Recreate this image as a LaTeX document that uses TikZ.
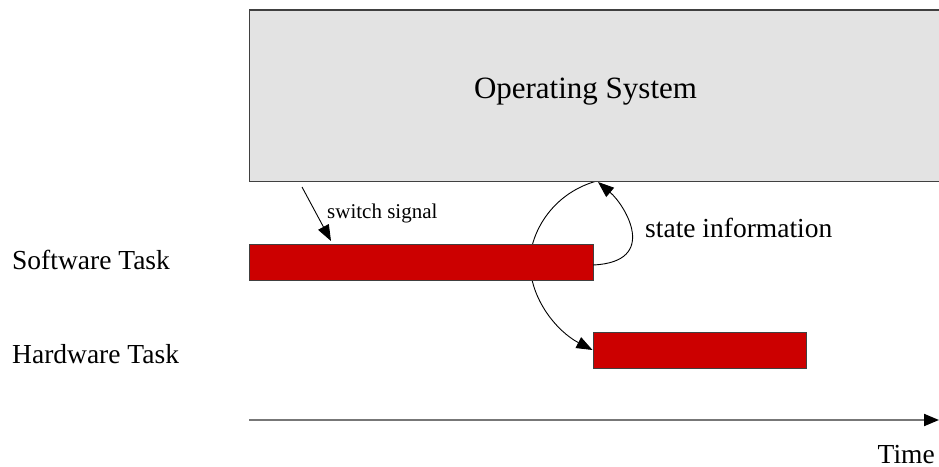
\documentclass[tikz,border=0pt]{standalone}
\usepackage{fontspec}
\setmainfont{Liberation Serif}
\usetikzlibrary{arrows.meta,backgrounds}
\definecolor{osgray}{HTML}{E3E3E3}
\definecolor{taskred}{HTML}{CC0000}
\definecolor{edgegray}{HTML}{404040}
\definecolor{axisgray}{HTML}{777777}
\tikzset{
  osbox/.style={draw=edgegray, line width=1.2pt, fill=osgray, inner sep=0pt},
  taskbar/.style={draw=edgegray, line width=1pt, fill=taskred, inner sep=0pt, minimum height=36pt},
  lbl/.style={inner sep=0pt, font=\fontsize{27.5}{30}\selectfont, anchor=base west},
  flow/.style={draw=black, line width=0.9pt, -{Triangle[length=16pt,width=12pt]}},
}
\begin{document}
\begin{tikzpicture}[x=1pt,y=-1pt]
\useasboundingbox (0,0) rectangle (939,466);
\clip (0,0) rectangle (939,466);

% operating system block (runs off the right edge)
\node[osbox, minimum width=695.5pt, minimum height=171.5pt] (os) at (597.25,95.75) {};
\node[inner sep=0pt, font=\fontsize{31}{34}\selectfont, anchor=base] (ostext) at (585.5,98) {Operating System};

% task bars
\node[taskbar, minimum width=343.5pt] (sw) at (421.25,262) {};
\node[taskbar, minimum width=213.5pt] (hw) at (699.75,350) {};

% row labels
\node[lbl] (swlbl) at (12,269) {Software Task};
\node[lbl] (hwlbl) at (12,363) {Hardware Task};

% connection points on the OS block
\coordinate (osout) at (595,181.5);
\coordinate (osin) at (598,182);
\coordinate (swout) at (593,265);
\coordinate (sigstart) at (302,187);
\coordinate (sigend) at (331,241);

% context switch path, passing behind the software bar
\begin{pgfonlayer}{background}
\draw[flow] (osout) .. controls (550,195) and (530,235) .. (530,262)
  .. controls (530,300) and (558,332) .. (hw.west);
\end{pgfonlayer}

% state information returned to the OS
\draw[flow] (swout) .. controls (660,262) and (625,205) .. (osin);
\node[lbl] (statelbl) at (645,237) {state information};

% switch signal
\draw[flow] (sigstart) -- (sigend);
\node[lbl, font=\fontsize{21}{24}\selectfont] (siglbl) at (327,218) {switch signal};

% time axis
\coordinate (t0) at (249,420);
\coordinate (t1) at (939,420);
\draw[axisgray, line width=2pt, -{Triangle[length=15pt,width=12pt,color=black]}] (t0) -- (t1);
\node[lbl, anchor=base east] (timelbl) at (935,463) {Time};
\end{tikzpicture}
\end{document}
